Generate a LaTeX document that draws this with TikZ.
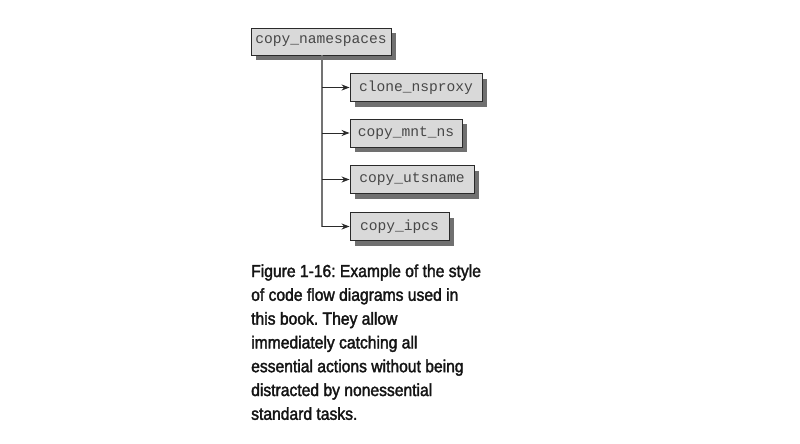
\documentclass[tikz,border=0pt]{standalone}
\usepackage{fontspec}
\setmainfont[FakeStretch=0.9,FakeBold=2]{Liberation Sans}
\setmonofont{Liberation Mono}
\usetikzlibrary{shadows,arrows.meta}
\definecolor{boxfill}{HTML}{D9D9D9}
\definecolor{shadowc}{HTML}{707070}
\definecolor{linec}{HTML}{2A2A2A}
\tikzset{
  fnbox/.style={draw=linec, line width=0.9pt, fill=boxfill, minimum height=28pt,
    inner sep=0pt, font=\fontsize{14.6}{16}\ttfamily, text=black!72,
    drop shadow={shadow xshift=4.5pt, shadow yshift=-5pt, fill=shadowc, opacity=1}},
  callarrow/.style={draw=linec, line width=0.9pt, -{Stealth[length=8pt,width=6pt]}},
  trunk/.style={draw=black!55, line width=1.2pt},
  capline/.style={anchor=base west, inner sep=0pt, font=\fontsize{17.4}{20}\selectfont\frenchspacing, text=black!92}
}
\begin{document}
\begin{tikzpicture}[x=1pt,y=-1pt]
\useasboundingbox (0,0) rectangle (800,444);
\node[fnbox, minimum width=140pt, minimum height=27pt] (ns) at (321,41.5) {copy\_namespaces};
\node[fnbox, minimum width=132pt] (clone) at (416,87.5) {clone\_nsproxy};
\node[fnbox, minimum width=112pt] (mnt) at (406,133) {copy\_mnt\_ns};
\node[fnbox, minimum width=124pt] (uts) at (412,179.5) {copy\_utsname};
\node[fnbox, minimum width=99pt] (ipc) at (399.5,226.5) {copy\_ipcs};
\coordinate (tk) at (322,0);
\draw[trunk] (tk |- ns.south) -- (tk |- ipc.west);
\foreach \n in {clone,mnt,uts,ipc}{
  \draw[callarrow] (tk |- \n.west) -- (\n.west);
}
\node[capline] (c1) at (251,277) {Figure 1-16: Example of the style};
\node[capline] (c2) at (251,300.8) {of code flow diagrams used in};
\node[capline] (c3) at (251,324.6) {this book. They allow};
\node[capline] (c4) at (251,348.4) {immediately catching all};
\node[capline] (c5) at (251,372.2) {essential actions without being};
\node[capline] (c6) at (251,396) {distracted by nonessential};
\node[capline] (c7) at (251,419.8) {standard tasks.};
\end{tikzpicture}
\end{document}
